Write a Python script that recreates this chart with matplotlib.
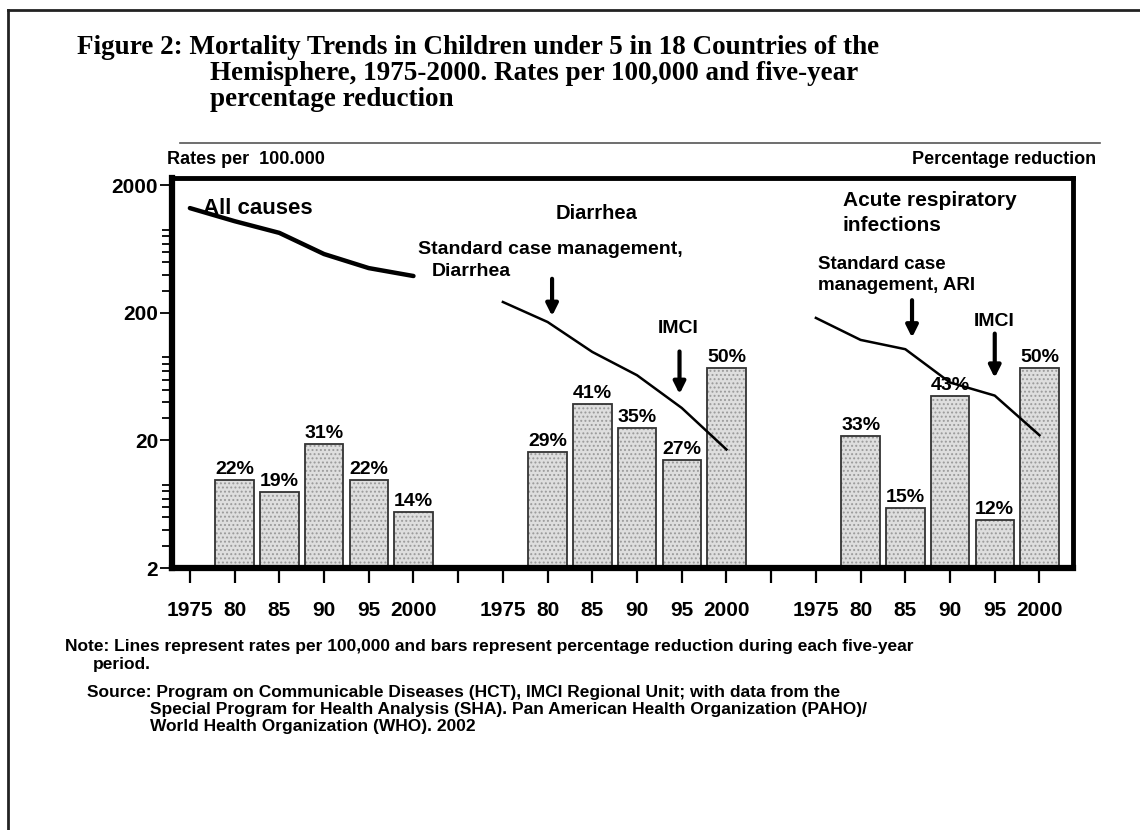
import numpy as np
import matplotlib
matplotlib.use("Agg")
import matplotlib.pyplot as plt
from matplotlib.lines import Line2D

plt.rcParams['font.family'] = ['Liberation Sans', 'DejaVu Sans']
plt.rcParams['hatch.linewidth'] = 0.9
plt.rcParams['hatch.color'] = '#8a8a8a'

# --- data ---
tick_pos = [0, 1, 2, 3, 4, 5, 6, 7, 8, 9, 10, 11, 12, 13, 14, 15, 16, 17, 18, 19]
tick_labels = ['1975', '80', '85', '90', '95', '2000', '',
               '1975', '80', '85', '90', '95', '2000', '',
               '1975', '80', '85', '90', '95', '2000']

all_x = [0, 1, 2, 3, 4, 5]
all_rates = [1330, 1050, 850, 580, 450, 390]
dia_x = [7, 8, 9, 10, 11, 12]
dia_rates = [244, 170, 99, 65, 36, 17]
ari_x = [14, 15, 16, 17, 18, 19]
ari_rates = [183, 123, 104, 57, 45, 22]

bar_x = [1, 2, 3, 4, 5, 8, 9, 10, 11, 12, 15, 16, 17, 18, 19]
bar_pct = [22, 19, 31, 22, 14, 29, 41, 35, 27, 50, 33, 15, 43, 12, 50]

# arrows: (x, start rate, end rate)
arrow_x = [8.1, 10.95, 16.15, 18.0]
arrow_from = [390, 105, 265, 145]
arrow_to = [180, 44, 122, 59]

W, H = 1140, 830
fig = plt.figure(figsize=(W / 100, H / 100), dpi=100)


def P(x, y):
    return x / W, 1 - y / H


ax = fig.add_axes([172 / W, 1 - 568 / H, (1073 - 172) / W, (568 - 178) / H])
ax2 = ax.twinx()
ax.set_zorder(2)
ax.patch.set_visible(False)

# bars on the percentage axis
ax2.bar(bar_x, bar_pct, width=0.86, facecolor='#dedede', edgecolor='#9a9a9a',
        hatch='....', linewidth=0, zorder=1)
ax2.bar(bar_x, bar_pct, width=0.86, fill=False, edgecolor='#333333',
        linewidth=1.3, zorder=2)
for x, p in zip(bar_x, bar_pct):
    ax2.text(x, p + 0.5, f'{p}%', ha='center', va='bottom',
             fontsize=14, fontweight='bold')
ax2.set_ylim(0, 97.5)
ax2.set_yticks([])

# rate lines on the log axis
ax.plot(all_x, all_rates, color='black', lw=3.2, solid_capstyle='round')
ax.plot(dia_x, dia_rates, color='black', lw=1.8)
ax.plot(ari_x, ari_rates, color='black', lw=1.8)

for x, a, b in zip(arrow_x, arrow_from, arrow_to):
    ax.annotate('', xy=(x, b), xytext=(x, a),
                arrowprops=dict(arrowstyle='-|>,head_width=0.35,head_length=0.7',
                                color='black', lw=3))

ax.set_yscale('log')
ax.set_ylim(2, 2290)
ax.set_xlim(-0.4, 19.75)
ax.set_yticks([2, 20, 200, 2000])
ax.set_yticklabels(['2', '20', '200', '2000'], fontsize=15, fontweight='bold')
ax.set_xticks(tick_pos)
ax.set_xticklabels(tick_labels, fontsize=15, fontweight='bold')
ax.tick_params(axis='x', direction='out', length=11, width=1.6, pad=13)
ax.tick_params(axis='y', which='major', direction='out', length=9, width=1.3, pad=1)
ax.tick_params(axis='y', which='minor', direction='out', length=7, width=1.3)
ax.yaxis.set_minor_formatter(matplotlib.ticker.NullFormatter())
for s in ['left', 'bottom']:
    ax.spines[s].set_linewidth(4.5)
for s in ['top', 'right']:
    ax.spines[s].set_linewidth(3.5)
for s in ax2.spines.values():
    s.set_visible(False)

# chart labels
fig.text(*P(203, 208), 'All causes', fontsize=16, fontweight='bold', va='center')
fig.text(*P(597, 213), 'Diarrhea', fontsize=14.5, fontweight='bold', va='center', ha='center')
fig.text(*P(843, 200), 'Acute respiratory', fontsize=15, fontweight='bold', va='center')
fig.text(*P(843, 225), 'infections', fontsize=15, fontweight='bold', va='center')
fig.text(*P(418, 250), 'Standard case management,', fontsize=14, fontweight='bold', va='center')
fig.text(*P(432, 272), 'Diarrhea', fontsize=14, fontweight='bold', va='center')
fig.text(*P(818, 264), 'Standard case', fontsize=13.5, fontweight='bold', va='center')
fig.text(*P(818, 286), 'management, ARI', fontsize=13.5, fontweight='bold', va='center')
fig.text(*P(678, 328), 'IMCI', fontsize=14, fontweight='bold', va='center', ha='center')
fig.text(*P(994, 321), 'IMCI', fontsize=14, fontweight='bold', va='center', ha='center')
fig.text(*P(167, 160), 'Rates per  100.000', fontsize=13, fontweight='bold', va='center')
fig.text(*P(912, 160), 'Percentage reduction', fontsize=13, fontweight='bold', va='center')

# title
tfont = dict(family='Liberation Serif', fontsize=19.5, fontweight='bold', va='center')
fig.text(*P(77, 48), 'Figure 2: Mortality Trends in Children under 5 in 18 Countries of the', **tfont)
fig.text(*P(210, 74), 'Hemisphere, 1975-2000. Rates per 100,000 and five-year', **tfont)
fig.text(*P(210, 100), 'percentage reduction', **tfont)

# notes
nfont = dict(fontsize=12.5, fontweight='bold', va='center')
fig.text(*P(65, 647), 'Note: Lines represent rates per 100,000 and bars represent '
         'percentage reduction during each five-year', **nfont)
fig.text(*P(93, 665), 'period.', **nfont)
fig.text(*P(87, 692), 'Source: Program on Communicable Diseases (HCT), IMCI Regional Unit; '
         'with data from the', **nfont)
fig.text(*P(150, 709), 'Special Program for Health Analysis (SHA). Pan American Health '
         'Organization (PAHO)/', **nfont)
fig.text(*P(150, 726), 'World Health Organization (WHO). 2002', **nfont)

# rule under title and page frame
fig.add_artist(Line2D([180 / W, 1100 / W], [1 - 143 / H] * 2, color='#555555', lw=1.2))
fig.add_artist(Line2D([8 / W, 8 / W], [0, 1 - 10 / H], color='#222222', lw=2))
fig.add_artist(Line2D([8 / W, 1], [1 - 10 / H] * 2, color='#222222', lw=2))

fig.savefig('out.png', dpi=100, facecolor='white')
